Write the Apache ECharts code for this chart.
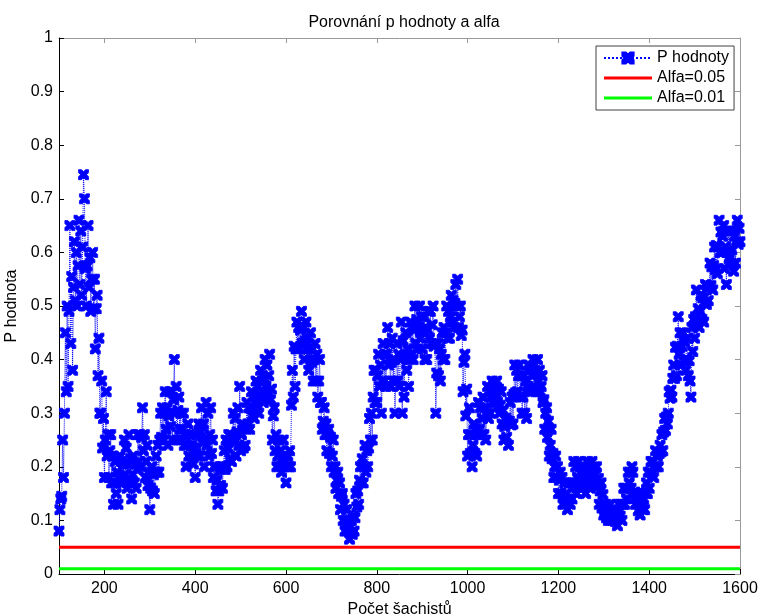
<!DOCTYPE html>
<html>
<head>
<meta charset="utf-8">
<title>Porovnání p hodnoty a alfa</title>
<script src="https://cdn.jsdelivr.net/npm/echarts@6/dist/echarts.min.js"></script>
<style>
  html, body { margin: 0; padding: 0; background: #ffffff; }
  #chart { width: 759px; height: 615px; }
</style>
</head>
<body>
<div id="chart"></div>
<script>
// Sample grid: number of chess players, from 100 to 1600 in steps of 2
const countStart = 100;
const countStep = 2;

// P-values, one per sample on the grid (each row covers 30 players)
const pValues = [
  0.08,0.12,0.14,0.145,0.25,0.18,0.30,0.45,0.34,0.50,0.35,0.49,0.65,0.43,0.555,
  0.38,0.535,0.62,0.51,0.60,0.50,0.575,0.66,0.54,0.64,0.52,0.61,0.745,0.70,0.57,
  0.50,0.575,0.65,0.535,0.59,0.49,0.55,0.60,0.495,0.55,0.42,0.495,0.52,0.37,0.44,
  0.30,0.30,0.36,0.235,0.29,0.18,0.25,0.34,0.22,0.26,0.18,0.23,0.26,0.17,0.22,
  0.13,0.17,0.21,0.15,0.19,0.13,0.18,0.22,0.17,0.21,0.17,0.205,0.25,0.185,0.235,
  0.16,0.205,0.26,0.175,0.215,0.14,0.185,0.22,0.17,0.205,0.16,0.195,0.26,0.21,0.26,
  0.20,0.255,0.31,0.23,0.26,0.18,0.21,0.24,0.165,0.19,0.12,0.16,0.20,0.155,0.185,
  0.15,0.19,0.22,0.19,0.24,0.19,0.25,0.30,0.255,0.31,0.25,0.30,0.34,0.27,0.31,
  0.24,0.295,0.34,0.275,0.34,0.25,0.325,0.40,0.30,0.35,0.25,0.305,0.33,0.27,0.30,
  0.25,0.27,0.30,0.24,0.26,0.20,0.24,0.28,0.22,0.26,0.21,0.24,0.26,0.205,0.235,
  0.18,0.225,0.26,0.22,0.28,0.22,0.265,0.31,0.245,0.28,0.20,0.25,0.32,0.24,0.30,
  0.22,0.26,0.31,0.225,0.25,0.18,0.20,0.20,0.155,0.175,0.13,0.155,0.20,0.165,0.195,
  0.16,0.20,0.23,0.195,0.25,0.20,0.235,0.26,0.215,0.26,0.21,0.25,0.30,0.245,0.29,
  0.22,0.265,0.31,0.24,0.35,0.23,0.26,0.28,0.235,0.275,0.24,0.27,0.32,0.28,0.31,
  0.27,0.31,0.34,0.295,0.33,0.29,0.32,0.36,0.315,0.35,0.30,0.335,0.38,0.33,0.36,
  0.32,0.365,0.40,0.35,0.39,0.34,0.37,0.41,0.325,0.345,0.25,0.295,0.31,0.23,0.26,
  0.20,0.22,0.25,0.20,0.23,0.19,0.215,0.25,0.20,0.22,0.17,0.20,0.22,0.20,0.23,
  0.20,0.315,0.38,0.33,0.425,0.35,0.42,0.47,0.42,0.46,0.42,0.455,0.49,0.43,0.46,
  0.40,0.435,0.47,0.42,0.44,0.38,0.42,0.45,0.395,0.42,0.36,0.40,0.43,0.36,0.41,
  0.33,0.36,0.40,0.32,0.32,0.27,0.285,0.31,0.26,0.28,0.23,0.26,0.27,0.225,0.255,
  0.20,0.22,0.25,0.19,0.20,0.16,0.175,0.19,0.15,0.17,0.12,0.145,0.15,0.10,0.13,
  0.08,0.10,0.12,0.08,0.085,0.065,0.078,0.10,0.074,0.108,0.08,0.105,0.15,0.125,0.155,
  0.13,0.175,0.20,0.17,0.215,0.17,0.20,0.24,0.19,0.23,0.20,0.235,0.29,0.25,0.30,
  0.25,0.33,0.38,0.32,0.38,0.32,0.37,0.41,0.35,0.39,0.30,0.36,0.43,0.36,0.41,
  0.35,0.41,0.46,0.39,0.43,0.35,0.395,0.44,0.36,0.40,0.30,0.36,0.43,0.36,0.41,
  0.35,0.40,0.47,0.30,0.435,0.33,0.405,0.45,0.38,0.42,0.35,0.40,0.47,0.41,0.46,
  0.40,0.455,0.50,0.43,0.475,0.42,0.46,0.50,0.44,0.48,0.42,0.455,0.48,0.40,0.46,
  0.40,0.455,0.49,0.44,0.49,0.43,0.465,0.50,0.425,0.43,0.30,0.375,0.43,0.37,0.42,
  0.36,0.41,0.45,0.40,0.46,0.40,0.45,0.50,0.44,0.49,0.44,0.48,0.52,0.47,0.51,
  0.46,0.505,0.54,0.50,0.55,0.46,0.48,0.50,0.445,0.455,0.34,0.395,0.41,0.295,0.345,
  0.22,0.26,0.31,0.225,0.26,0.20,0.24,0.28,0.225,0.27,0.22,0.26,0.32,0.27,0.31,
  0.26,0.29,0.33,0.26,0.31,0.25,0.30,0.35,0.29,0.34,0.30,0.33,0.36,0.32,0.35,
  0.32,0.335,0.36,0.32,0.345,0.30,0.315,0.34,0.28,0.305,0.25,0.275,0.29,0.255,0.285,
  0.24,0.285,0.32,0.278,0.33,0.28,0.335,0.39,0.338,0.38,0.34,0.37,0.39,0.33,0.37,
  0.30,0.33,0.37,0.30,0.36,0.29,0.35,0.39,0.345,0.385,0.34,0.37,0.40,0.35,0.38,
  0.34,0.375,0.40,0.36,0.38,0.34,0.35,0.37,0.32,0.325,0.27,0.30,0.31,0.255,0.285,
  0.22,0.24,0.27,0.215,0.225,0.18,0.20,0.22,0.18,0.20,0.15,0.175,0.19,0.15,0.18,
  0.13,0.145,0.17,0.13,0.15,0.12,0.14,0.17,0.13,0.17,0.14,0.17,0.21,0.17,0.20,
  0.15,0.18,0.21,0.165,0.20,0.16,0.185,0.20,0.163,0.19,0.15,0.17,0.21,0.173,0.198,
  0.16,0.185,0.21,0.17,0.20,0.17,0.185,0.20,0.163,0.178,0.13,0.155,0.17,0.123,0.148,
  0.11,0.115,0.13,0.105,0.12,0.10,0.115,0.13,0.10,0.12,0.10,0.115,0.12,0.098,0.113,
  0.09,0.115,0.13,0.108,0.13,0.10,0.13,0.16,0.13,0.16,0.14,0.16,0.19,0.17,0.19,
  0.16,0.20,0.19,0.15,0.153,0.13,0.145,0.15,0.118,0.133,0.11,0.125,0.15,0.12,0.14,
  0.12,0.15,0.17,0.15,0.19,0.16,0.19,0.21,0.188,0.21,0.18,0.20,0.23,0.20,0.22,
  0.20,0.225,0.24,0.228,0.26,0.23,0.265,0.29,0.268,0.293,0.28,0.30,0.34,0.328,0.343,
  0.33,0.365,0.39,0.365,0.423,0.37,0.425,0.48,0.41,0.45,0.39,0.425,0.45,0.398,0.433,
  0.38,0.40,0.44,0.37,0.398,0.36,0.33,0.46,0.415,0.475,0.44,0.48,0.53,0.465,0.495,
  0.46,0.49,0.52,0.475,0.515,0.47,0.505,0.54,0.503,0.538,0.51,0.535,0.58,0.538,0.573,
  0.53,0.575,0.61,0.568,0.613,0.56,0.61,0.66,0.60,0.638,0.60,0.63,0.65,0.57,0.61,
  0.54,0.60,0.64,0.588,0.64,0.58,0.605,0.64,0.565,0.63,0.58,0.62,0.66,0.615,0.645,
  0.62
];

// Significance levels drawn as horizontal reference lines
const alphaLevels = [0.05, 0.01];
const alphaNames = ['Alfa=0.05', 'Alfa=0.01'];
const alphaColors = ['#ff0000', '#00ff00'];

// Axis ranges and tick labels
const xRange = [100, 1600];
const xTicks = [200, 400, 600, 800, 1000, 1200, 1400, 1600];
const yRange = [0, 1];
const yTickStep = 0.1;

const FONT = '"Liberation Sans", Arial, Helvetica, sans-serif';
const FONT_SIZE = 16;

const pSeriesData = pValues.map((v, i) => [countStart + i * countStep, v]);

// Bold "x" marker as a filled outline
const crossPath = 'path://M0,0 L3,0 L5,2 L7,0 L10,0 L10,3 L8,5 L10,7 L10,10 L7,10 L5,8 L3,10 L0,10 L0,7 L2,5 L0,3 Z';
// Plain bar used as the legend icon of the reference lines
const barIcon = 'path://M0,0 L48,0 L48,3 L0,3 Z';

const chart = echarts.init(document.getElementById('chart'), null, { renderer: 'canvas' });

const frameAxis = (color, ticks) => ({
  axisLine: { show: true, onZero: false, lineStyle: { color: color, width: 1 } },
  axisTick: Object.assign(
    { show: true, inside: true, length: 5, lineStyle: { color: color, width: 1 } },
    ticks ? { customValues: ticks } : {}
  ),
  splitLine: { show: false }
});

const option = {
  animation: false,
  backgroundColor: '#ffffff',
  textStyle: { fontFamily: FONT },
  title: {
    text: 'Porovnání p hodnoty a alfa',
    left: 399,
    textAlign: 'center',
    top: 10,
    textStyle: { fontFamily: FONT, fontSize: FONT_SIZE, fontWeight: 'normal', color: '#000' }
  },
  grid: { left: 59, right: 19, top: 38, bottom: 41, containLabel: false, outerBoundsMode: 'none' },
  legend: {
    left: 596,
    top: 46,
    orient: 'vertical',
    backgroundColor: '#ffffff',
    borderColor: '#404040',
    borderWidth: 1,
    borderRadius: 0,
    padding: [4, 5, 4, 7],
    itemGap: 4,
    itemWidth: 48,
    itemHeight: 14,
    textStyle: { fontFamily: FONT, fontSize: FONT_SIZE, color: '#000' },
    data: [
      { name: 'P hodnoty' },
      { name: alphaNames[0], icon: barIcon },
      { name: alphaNames[1], icon: barIcon }
    ]
  },
  xAxis: [
    Object.assign({
      type: 'value',
      position: 'bottom',
      min: xRange[0],
      max: xRange[1],
      name: 'Počet šachistů',
      nameLocation: 'middle',
      nameGap: 26,
      nameTextStyle: { fontFamily: FONT, fontSize: FONT_SIZE, color: '#000' },
      axisLabel: {
        customValues: xTicks,
        formatter: (v) => String(v),
        fontFamily: FONT, fontSize: FONT_SIZE, color: '#000', margin: 7
      }
    }, frameAxis('#000', xTicks)),
    Object.assign({
      type: 'value',
      position: 'top',
      min: xRange[0],
      max: xRange[1],
      axisLabel: { show: false, customValues: xTicks }
    }, frameAxis('#999', xTicks))
  ],
  yAxis: [
    Object.assign({
      type: 'value',
      position: 'left',
      min: yRange[0],
      max: yRange[1],
      interval: yTickStep,
      name: 'P hodnota',
      nameLocation: 'middle',
      nameGap: 34,
      nameRotate: 90,
      nameTextStyle: { fontFamily: FONT, fontSize: FONT_SIZE, color: '#000' },
      axisLabel: { fontFamily: FONT, fontSize: FONT_SIZE, color: '#000', margin: 6 }
    }, frameAxis('#000')),
    Object.assign({
      type: 'value',
      position: 'right',
      min: yRange[0],
      max: yRange[1],
      interval: yTickStep,
      axisLabel: { show: false }
    }, frameAxis('#999'))
  ],
  series: [
    {
      name: 'P hodnoty',
      type: 'line',
      xAxisIndex: 0,
      yAxisIndex: 0,
      data: pSeriesData,
      showSymbol: true,
      showAllSymbol: true,
      symbol: crossPath,
      symbolSize: 10,
      itemStyle: { color: '#0000ff', borderColor: '#0000ff', borderWidth: 0.8 },
      lineStyle: { color: '#0000ff', width: 1, type: 'dotted' },
      emphasis: { disabled: true }
    }
  ].concat(alphaLevels.map((a, k) => ({
    name: alphaNames[k],
    type: 'line',
    xAxisIndex: 0,
    yAxisIndex: 0,
    data: [[xRange[0], a], [xRange[1], a]],
    showSymbol: false,
    symbol: 'none',
    itemStyle: { color: alphaColors[k] },
    lineStyle: { color: alphaColors[k], width: 3 },
    emphasis: { disabled: true }
  })))
};

chart.setOption(option);
</script>
</body>
</html>
